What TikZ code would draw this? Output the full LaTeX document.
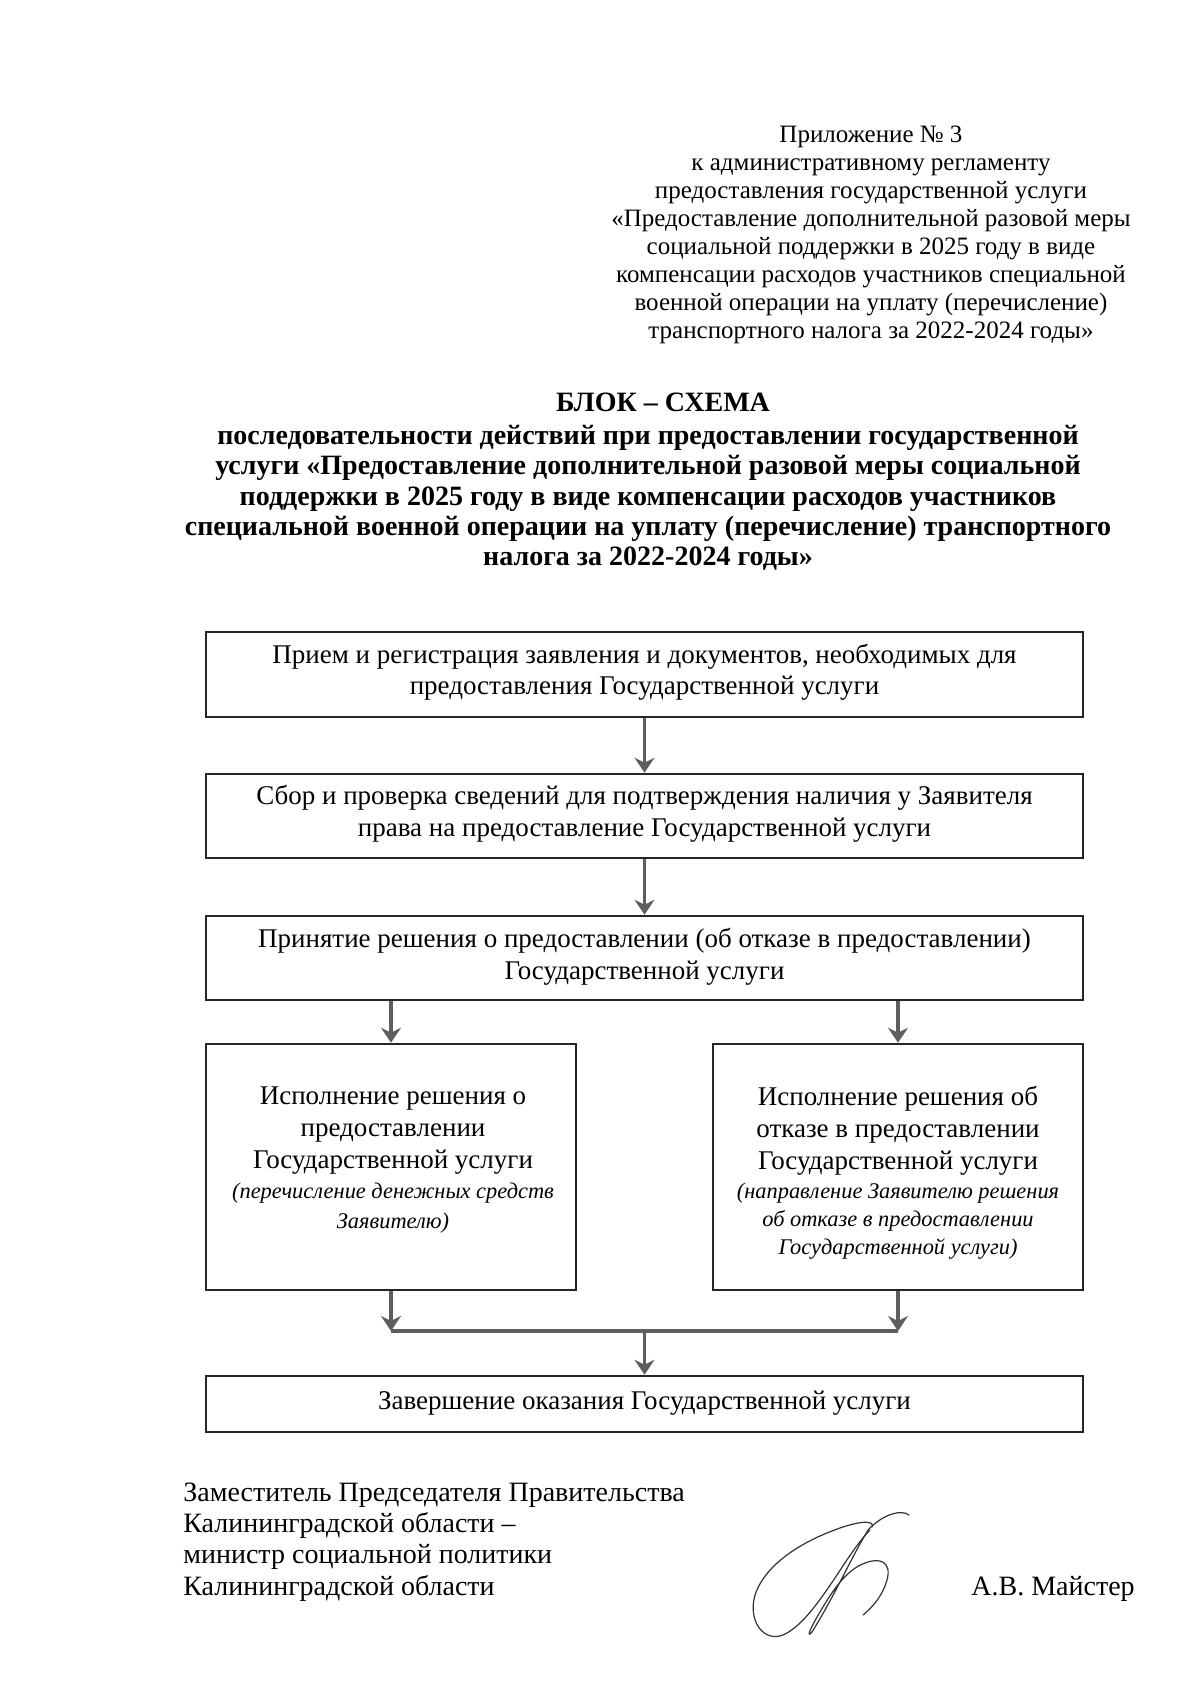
\documentclass[tikz,border=0pt]{standalone}
\usepackage{fontspec}
\setmainfont{Liberation Serif}
\usetikzlibrary{arrows.meta}
\definecolor{arrgray}{HTML}{5E5E5E}
\tikzset{
  box/.style={draw=black!85, line width=1.3pt, fill=white, inner sep=0pt},
  boxtext/.style={align=center, inner sep=0pt, font=\fontsize{13.5}{15.75}\selectfont},
  smalltext/.style={align=center, inner sep=0pt, font=\fontsize{11.2}{14}\selectfont\itshape},
  hdr/.style={align=center, inner sep=0pt, font=\fontsize{12.5}{14}\selectfont},
  ttl/.style={align=center, inner sep=0pt, font=\fontsize{14}{15.2}\selectfont\bfseries},
  foot/.style={align=left, inner sep=0pt, font=\fontsize{14}{15.6}\selectfont},
  arr/.style={draw=arrgray, line width=1.6pt, -{Stealth[length=7.5pt, width=10pt, inset=2.5pt]}},
  joinline/.style={draw=arrgray, line width=1.6pt},
  sig/.style={draw=black!80, line width=0.6pt, line cap=round, line join=round}
}
\begin{document}
\begin{tikzpicture}[x=0.5pt, y=-0.5pt]
\useasboundingbox[fill=white] (0,0) rectangle (1200,1686);

% header
\node[hdr] (hdr) at (871,235) {Приложение № 3\\
к административному регламенту\\
предоставления государственной услуги\\
«Предоставление дополнительной разовой меры\\
социальной поддержки в 2025 году в виде\\
компенсации расходов участников специальной\\
военной операции на уплату (перечисление)\\
транспортного налога за 2022-2024 годы»};

% title
\node[ttl] (ttl1) at (663,402) {БЛОК – СХЕМА};
\node[ttl] (ttl2) at (648,497.8) {последовательности действий при предоставлении государственной\\
услуги «Предоставление дополнительной разовой меры социальной\\
поддержки в 2025 году в виде компенсации расходов участников\\
специальной военной операции на уплату (перечисление) транспортного\\
налога за 2022-2024 годы»};

% boxes
\node[box, minimum width=438.5pt, minimum height=42.5pt] (b1) at (644.5,674.5) {};
\node[boxtext] (t1) at (644.5,672) {Прием и регистрация заявления и документов, необходимых для\\
предоставления Государственной услуги};

\node[box, minimum width=438.5pt, minimum height=42pt] (b2) at (644.5,816) {};
\node[boxtext] (t2) at (644.5,813.5) {Сбор и проверка сведений для подтверждения наличия у Заявителя\\
права на предоставление Государственной услуги};

\node[box, minimum width=438.5pt, minimum height=42pt] (b3) at (644.5,958) {};
\node[boxtext] (t3) at (644.5,956.5) {Принятие решения о предоставлении (об отказе в предоставлении)\\
Государственной услуги};

\node[box, minimum width=185pt, minimum height=123pt] (b4) at (391,1167) {};
\node[boxtext, font=\fontsize{13.5}{16}\selectfont] (t4) at (393,1131) {Исполнение решения о\\
предоставлении\\
Государственной услуги};
\node[smalltext, font=\fontsize{11.2}{15}\selectfont\itshape] (t4i) at (393,1208) {(перечисление денежных средств\\
Заявителю)};

\node[box, minimum width=185pt, minimum height=123pt] (b5) at (898,1167) {};
\node[boxtext, font=\fontsize{13.5}{16}\selectfont] (t5) at (898,1131) {Исполнение решения об\\
отказе в предоставлении\\
Государственной услуги};
\node[smalltext] (t5i) at (898,1221) {(направление Заявителю решения\\
об отказе в предоставлении\\
Государственной услуги)};

\node[box, minimum width=438.5pt, minimum height=28pt] (b6) at (644.5,1404) {};
\node[boxtext] (t6) at (644.5,1403) {Завершение оказания Государственной услуги};

% connectors
\draw[arr] (b1.south) -- (b2.north);
\draw[arr] (b2.south) -- (b3.north);
\draw[arr] (b3.south -| b4.north) -- (b4.north);
\draw[arr] (b3.south -| b5.north) -- (b5.north);
\coordinate (mid) at (644.5,1331);
\coordinate (jl) at (b4.south |- mid);
\coordinate (jr) at (b5.south |- mid);
\draw[arr] (b4.south) -- (jl);
\draw[arr] (b5.south) -- (jr);
\draw[joinline] (jl) -- (jr);
\draw[arr] (mid) -- (b6.north);

% footer
\node[foot, anchor=west] (sign) at (183,1542) {Заместитель Председателя Правительства\\
Калининградской области –\\
министр социальной политики\\
Калининградской области};
\node[foot, anchor=west] (name) at (971,1589) {А.В. Майстер};

% signature
\draw[sig] (909,1515) .. controls (903,1510) and (885,1512) .. (868,1530)
  .. controls (850,1560) and (835,1595) .. (812,1632)
  .. controls (805,1640) and (812,1625) .. (820,1612)
  .. controls (830,1595) and (845,1570) .. (865,1563)
  .. controls (880,1557) and (892,1562) .. (887,1580)
  .. controls (883,1595) and (872,1608) .. (863,1615);
\draw[sig] (872,1527) .. controls (875,1520) and (860,1521) .. (840,1528)
  .. controls (800,1542) and (765,1565) .. (755,1595)
  .. controls (748,1620) and (762,1640) .. (780,1636)
  .. controls (800,1630) and (820,1600) .. (835,1578)
  .. controls (848,1558) and (860,1540) .. (870,1530);
\end{tikzpicture}
\end{document}
